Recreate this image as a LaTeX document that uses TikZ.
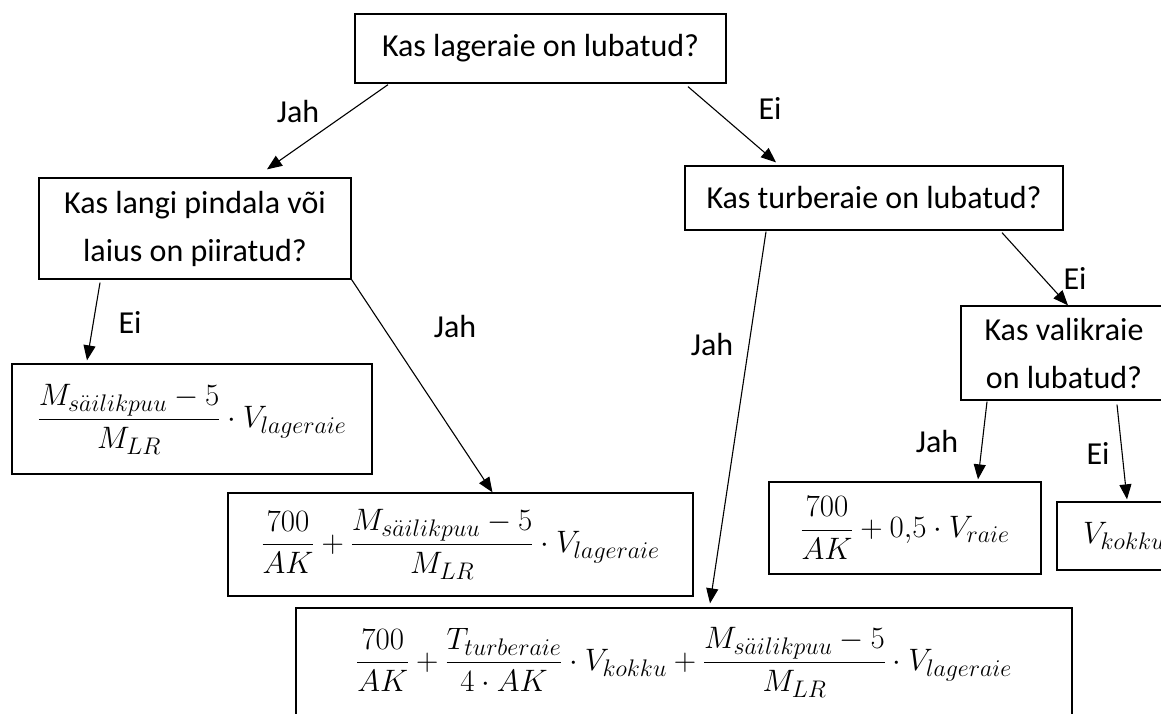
\RequirePackage{fix-cm}
\documentclass[tikz,border=0pt]{standalone}
\usepackage{amsmath}
\usepackage[no-math]{fontspec}
\setmainfont{Carlito}
\DeclareMathSizes{31}{31}{24}{18}
\usetikzlibrary{arrows.meta}
\begin{document}
\begin{tikzpicture}[x=1pt,y=-1pt,
  box/.style={draw, line width=1.3pt, inner sep=0pt, align=center, font=\fontsize{32}{48}\selectfont},
  fbox/.style={draw, line width=1.3pt, inner sep=0pt, align=center, font=\fontsize{31}{36}\selectfont},
  arr/.style={line width=1.1pt, -{Triangle[length=15pt,width=12pt]}},
  lab/.style={font=\fontsize{32}{38}\selectfont, inner sep=0pt}]
\useasboundingbox (0,0) rectangle (1161,713);
\fill[white] (0,0) rectangle (1161,713);
\clip (0,0) rectangle (1161,713);

% question boxes
\node[box, minimum width=371pt, minimum height=69pt] (q1) at (540.5,48.5) {Kas lageraie on lubatud?};
\node[box, minimum width=312pt, minimum height=101pt] (q2) at (195,228.5) {Kas langi pindala või\\laius on piiratud?};
\node[box, minimum width=378pt, minimum height=64pt] (q3) at (874,198) {Kas turberaie on lubatud?};
\node[box, minimum width=206pt, minimum height=94pt] (q4) at (1064,353) {Kas valikraie\\on lubatud?};

% formula boxes
\node[fbox, minimum width=360pt, minimum height=110pt] (f1) at (192,419)
  {$\displaystyle \frac{M_{s\ddot{a}ilikpuu}-5}{M_{LR}}\cdot V_{lageraie}$};
\node[fbox, minimum width=465pt, minimum height=103pt] (f2) at (460.5,544.5)
  {$\displaystyle \frac{700}{AK}+\frac{M_{s\ddot{a}ilikpuu}-5}{M_{LR}}\cdot V_{lageraie}$};
\node[fbox, minimum width=272pt, minimum height=92pt] (f3) at (905,528)
  {$\displaystyle \frac{700}{AK}+0{,}5\cdot V_{raie}$};
\node[fbox, minimum width=134pt, minimum height=68pt] (f4) at (1124,536)
  {$\displaystyle V_{kokku}$};
\node[fbox, minimum width=776pt, minimum height=108pt] (f5) at (684,662)
  {$\displaystyle \frac{700}{AK}+\frac{T_{turberaie}}{4\cdot AK}\cdot V_{kokku}+\frac{M_{s\ddot{a}ilikpuu}-5}{M_{LR}}\cdot V_{lageraie}$};

% connectors
\draw[arr] ([xshift=-152.5pt,yshift=-1pt]q1.south) -- ([xshift=72pt,yshift=8pt]q2.north);
\draw[arr] ([xshift=147.5pt,yshift=-3pt]q1.south) -- ([xshift=-98pt,yshift=3pt]q3.north);
\draw[arr] ([xshift=-95pt,yshift=-3pt]q2.south) -- ([xshift=-105pt,yshift=3pt]f1.north);
\draw[arr] (q2.south east) -- ([xshift=32pt]f2.north);
\draw[arr] ([xshift=-108pt,yshift=-1pt]q3.south) -- ([xshift=26pt,yshift=4pt]f5.north);
\draw[arr] ([xshift=128pt,yshift=-2pt]q3.south) -- ([xshift=4pt]q4.north);
\draw[arr] ([xshift=-77pt,yshift=-1pt]q4.south) -- ([xshift=73pt,yshift=2pt]f3.north);
\draw[arr] ([xshift=53pt,yshift=-4pt]q4.south) -- ([xshift=3pt,yshift=2pt]f4.north);

% labels
\node[lab] (l1) at (298,112) {Jah};
\node[lab] (l2) at (770,108) {Ei};
\node[lab] (l3) at (130,322) {Ei};
\node[lab] (l4) at (455,326) {Jah};
\node[lab] (l5) at (712,344) {Jah};
\node[lab] (l6) at (1075,278) {Ei};
\node[lab] (l7) at (937,441) {Jah};
\node[lab] (l8) at (1098,453) {Ei};
\end{tikzpicture}
\end{document}
